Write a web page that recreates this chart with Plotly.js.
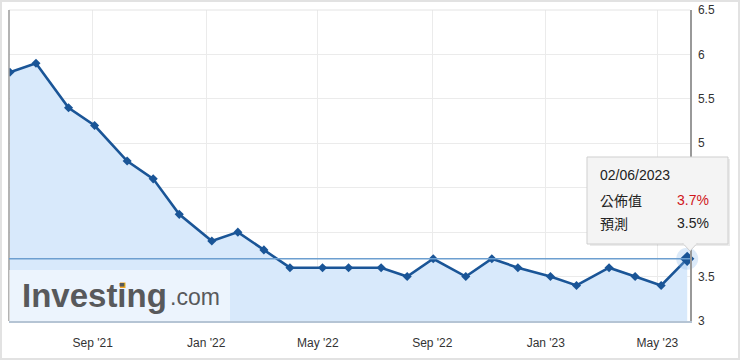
<!DOCTYPE html>
<html>
<head>
<meta charset="utf-8">
<script src="https://cdn.plot.ly/plotly-3.0.1.min.js"></script>
<style>
html,body{margin:0;padding:0;background:#fff;}
#frame{position:absolute;left:0;top:0;width:736px;height:356px;border:2px solid #e2e2e2;}
#chart{position:absolute;left:0;top:0;width:740px;height:360px;}
</style>
</head>
<body>
<div id="frame"></div>
<div id="chart"></div>
<script>
// Release dates and published unemployment rate (%)
const releaseDates = [
  "2021-06-04","2021-07-02","2021-08-06","2021-09-03","2021-10-08","2021-11-05",
  "2021-12-03","2022-01-07","2022-02-04","2022-03-04","2022-04-01","2022-05-06",
  "2022-06-03","2022-07-08","2022-08-05","2022-09-02","2022-10-07","2022-11-04",
  "2022-12-02","2023-01-06","2023-02-03","2023-03-10","2023-04-07","2023-05-05",
  "2023-06-02"
];
const actualValues = [
  5.8, 5.9, 5.4, 5.2, 4.8, 4.6,
  4.2, 3.9, 4.0, 3.8, 3.6, 3.6,
  3.6, 3.6, 3.5, 3.7, 3.5, 3.7,
  3.6, 3.5, 3.4, 3.6, 3.5, 3.4,
  3.7
];
const xRange = ["2021-06-03", "2023-06-05"];
const xTickVals = ["2021-09-01","2022-01-01","2022-05-01","2022-09-01","2023-01-01","2023-05-01"];
const xTickText = ["Sep '21","Jan '22","May '22","Sep '22","Jan '23","May '23"];
const yTickVals = [3, 3.5, 4, 4.5, 5, 5.5, 6, 6.5];
const yTickText = ["3", "3.5", "", "", "5", "5.5", "6", "6.5"];
const tooltipDate = "02/06/2023";
const tooltipActualLabel = "公佈值";
const tooltipActual = "3.7%";
const tooltipForecastLabel = "預測";
const tooltipForecast = "3.5%";

const lastIdx = actualValues.length - 1;
const lastDate = releaseDates[lastIdx];
const lastVal = actualValues[lastIdx];

// pixel helpers for paper coords (plot area: x 9..690, y 10..321)
const L = 9, R = 690, T = 10, B = 321;
const px = x => (x - L) / (R - L);
const py = y => (B - y) / (B - T);

const traces = [
  {
    x: releaseDates, y: actualValues, type: "scatter", mode: "lines+markers",
    fill: "tozeroy", fillcolor: "#d8e9fb",
    line: {color: "#1a5597", width: 2.6},
    marker: {symbol: "diamond", size: 7, color: "#1a5597"},
    hoverinfo: "skip"
  },
  {
    x: [lastDate], y: [lastVal], type: "scatter", mode: "markers",
    marker: {symbol: "circle", size: 22, color: "rgba(140,185,235,0.3)"},
    cliponaxis: false, hoverinfo: "skip"
  },
  {
    x: [lastDate], y: [lastVal], type: "scatter", mode: "markers",
    marker: {symbol: "diamond", size: 11, color: "#1a5597"},
    cliponaxis: false, hoverinfo: "skip"
  }
];

const layout = {
  width: 740, height: 360,
  margin: {l: L, r: 740 - R, t: T, b: 360 - B},
  paper_bgcolor: "rgba(0,0,0,0)", plot_bgcolor: "#fff",
  showlegend: false,
  font: {family: "Arial, 'Liberation Sans', sans-serif", size: 12, color: "#333"},
  xaxis: {
    type: "date", range: xRange,
    tickvals: xTickVals, ticktext: xTickText,
    showgrid: true, gridcolor: "#ebebeb", gridwidth: 1,
    showline: true, linecolor: "#b5c4d4", linewidth: 1.5,
    ticks: "", ticklabelstandoff: 10, zeroline: false,
    tickfont: {size: 12, color: "#333"}
  },
  yaxis: {
    side: "right", range: [3, 6.5],
    tickvals: yTickVals, ticktext: yTickText,
    showgrid: true, gridcolor: "#ebebeb", gridwidth: 1,
    showline: true, linecolor: "#999", linewidth: 1.5,
    ticks: "", ticklabelstandoff: 4, zeroline: false,
    tickfont: {size: 12, color: "#333"}
  },
  shapes: [
    {type: "line", xref: "paper", yref: "paper", x0: 0, x1: 1, y0: 1, y1: 1,
     line: {color: "#e4e4e4", width: 1}},
    {type: "line", xref: "paper", yref: "paper", x0: 0, x1: 0, y0: 0, y1: 1,
     line: {color: "#9a9a9a", width: 1.5}},
    {type: "line", xref: "paper", yref: "y", x0: 0, x1: 1, y0: lastVal, y1: lastVal,
     line: {color: "#6d9fd0", width: 1.5}, layer: "above"},
    {type: "rect", xref: "paper", yref: "paper", x0: 0, x1: px(230), y0: 0, y1: py(270),
     fillcolor: "rgba(255,255,255,0.5)", line: {width: 0}, layer: "above"},
    {type: "rect", xref: "paper", yref: "paper", x0: px(120), x1: px(125.5), y0: py(288), y1: py(282.5),
     fillcolor: "#f5a623", line: {width: 0}, layer: "above"},
    {type: "rect", xref: "paper", yref: "paper", x0: px(590), x1: px(730), y0: py(246), y1: py(159),
     fillcolor: "rgba(0,0,0,0.08)", line: {width: 0}, layer: "above"},
    {type: "rect", xref: "paper", yref: "paper", x0: px(587), x1: px(728), y0: py(244), y1: py(157),
     fillcolor: "#f4f4f4", line: {color: "#cfcfcf", width: 1}, layer: "above"},
    {type: "path", xref: "paper", yref: "paper",
     path: "M " + px(683) + " " + py(243.5) + " L " + px(690) + " " + py(251) + " L " + px(697) + " " + py(243.5) + " Z",
     fillcolor: "#f4f4f4", line: {color: "#cfcfcf", width: 1}, layer: "above"},
    {type: "line", xref: "paper", yref: "paper", x0: px(683.5), x1: px(696.5), y0: py(243.5), y1: py(243.5),
     line: {color: "#f4f4f4", width: 2}, layer: "above"}
  ],
  annotations: [
    {xref: "paper", yref: "paper", x: px(20), y: py(295), xanchor: "left", yanchor: "middle",
     text: "<b>Investing</b>", showarrow: false,
     font: {family: "Arial, 'Liberation Sans', sans-serif", size: 33, color: "#58595b"}},
    {xref: "paper", yref: "paper", x: px(168), y: py(297), xanchor: "left", yanchor: "middle",
     text: ".com", showarrow: false,
     font: {family: "Arial, 'Liberation Sans', sans-serif", size: 23, color: "#58595b"}},
    {xref: "paper", yref: "paper", x: px(598), y: py(175), xanchor: "left", yanchor: "middle",
     text: tooltipDate, showarrow: false, font: {size: 14, color: "#222"}},
    {xref: "paper", yref: "paper", x: px(598), y: py(200), xanchor: "left", yanchor: "middle",
     text: tooltipActualLabel, showarrow: false,
     font: {family: "'Noto Sans CJK TC', sans-serif", size: 14, color: "#222"}},
    {xref: "paper", yref: "paper", x: px(711), y: py(200), xanchor: "right", yanchor: "middle",
     text: tooltipActual, showarrow: false, font: {size: 14, color: "#d0161b"}},
    {xref: "paper", yref: "paper", x: px(598), y: py(223), xanchor: "left", yanchor: "middle",
     text: tooltipForecastLabel, showarrow: false,
     font: {family: "'Noto Sans CJK TC', sans-serif", size: 14, color: "#222"}},
    {xref: "paper", yref: "paper", x: px(711), y: py(223), xanchor: "right", yanchor: "middle",
     text: tooltipForecast, showarrow: false, font: {size: 14, color: "#222"}}
  ]
};

Plotly.newPlot("chart", traces, layout, {displayModeBar: false, staticPlot: true});
</script>
</body>
</html>
